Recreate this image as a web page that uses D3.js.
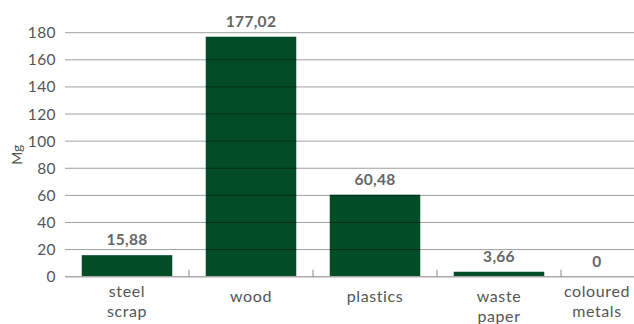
<!DOCTYPE html>
<html>
<head>
<meta charset="utf-8">
<script src="https://cdn.jsdelivr.net/npm/d3@7"></script>
<style>
  body { margin: 0; background: #fff; }
  svg { display: block; font-family: Lato, "Open Sans", sans-serif; }
</style>
</head>
<body>
<div id="chart"></div>
<script>
// chart data
var categories = ['steel scrap', 'wood', 'plastics', 'waste paper', 'coloured metals'];
var categoryLines = [['steel', 'scrap'], ['wood'], ['plastics'], ['waste', 'paper'], ['coloured', 'metals']];
var values = [15.88, 177.02, 60.48, 3.66, 0];
var yTicks = [0, 20, 40, 60, 80, 100, 120, 140, 160, 180];

var width = 634, height = 324;
var plotLeft = 65, plotRight = 685, plotTop = 32.7, plotBottom = 276.7;

var svg = d3.select('#chart').append('svg')
    .attr('width', width)
    .attr('height', height);

var x = d3.scaleBand()
    .domain(categories)
    .range([plotLeft, plotRight])
    .paddingInner(0.27)
    .paddingOuter(0.135);

var y = d3.scaleLinear()
    .domain([0, 180])
    .range([plotBottom, plotTop]);

var fmt = d3.formatLocale({ decimal: ',', thousands: '.', grouping: [3], currency: ['', ''] }).format('.2f');

// bars
svg.selectAll('rect.bar')
    .data(values)
    .enter().append('rect')
    .attr('class', 'bar')
    .attr('x', function(d, i) { return x(categories[i]); })
    .attr('y', function(d) { return y(d); })
    .attr('width', x.bandwidth())
    .attr('height', function(d) { return plotBottom - y(d); })
    .style('fill', '#024d27');

// gridlines, drawn over the bars
svg.selectAll('line.grid')
    .data(yTicks.slice(1))
    .enter().append('line')
    .attr('class', 'grid')
    .attr('x1', plotLeft)
    .attr('x2', width)
    .attr('y1', function(d) { return y(d); })
    .attr('y2', function(d) { return y(d); })
    .style('stroke', '#000')
    .style('stroke-opacity', 0.38)
    .style('stroke-width', 1);

// y axis labels
var yAxis = d3.axisLeft(y).tickValues(yTicks).tickSize(0).tickPadding(9);
var gy = svg.append('g')
    .attr('transform', 'translate(' + plotLeft + ',0)')
    .call(yAxis);
gy.select('.domain').remove();
gy.selectAll('text')
    .style('font-size', '15.5px')
    .style('font-family', 'Lato, sans-serif')
    .style('letter-spacing', '0.4px')
    .style('fill', '#555');

// x baseline and separator ticks
svg.append('line')
    .attr('x1', plotLeft)
    .attr('x2', width)
    .attr('y1', plotBottom)
    .attr('y2', plotBottom)
    .style('stroke', '#aaa')
    .style('stroke-width', 1.5);

var step = x.step();
svg.selectAll('line.sep')
    .data(categories.slice(1))
    .enter().append('line')
    .attr('class', 'sep')
    .attr('x1', function(d) { return x(d) - step * x.paddingInner() / 2; })
    .attr('x2', function(d) { return x(d) - step * x.paddingInner() / 2; })
    .attr('y1', plotBottom)
    .attr('y2', plotBottom - 7)
    .style('stroke', '#888')
    .style('stroke-width', 1);

// keep labels inside the visible area
function labelX(i, half) {
    var cx = x(categories[i]) + x.bandwidth() / 2;
    return Math.min(cx, width - 4 - half);
}

// category labels
var labelTop = [297, 302, 302, 302, 297];
var catHalfWidths = [];
categoryLines.forEach(function(lines, i) {
    var t = svg.append('text')
        .attr('text-anchor', 'middle')
        .style('font-size', '16px')
        .style('letter-spacing', '0.6px')
        .style('fill', '#555');
    lines.forEach(function(line, j) {
        t.append('tspan')
            .attr('x', 0)
            .attr('y', labelTop[i] + j * 20)
            .text(line);
    });
    var w = t.node().getBBox().width;
    catHalfWidths.push(w / 2);
    t.selectAll('tspan').attr('x', labelX(i, w / 2));
});

// value labels
values.forEach(function(d, i) {
    svg.append('text')
        .attr('text-anchor', 'middle')
        .attr('x', labelX(i, catHalfWidths[i]))
        .attr('y', y(d) - 10)
        .style('font-size', '15.5px')
        .style('font-weight', 'bold')
        .style('letter-spacing', '0.3px')
        .style('fill', '#666')
        .text(d === 0 ? '0' : fmt(d));
});

// y axis title
svg.append('text')
    .attr('transform', 'translate(22,' + y(90) + ') rotate(-90)')
    .attr('text-anchor', 'middle')
    .style('font-size', '14px')
    .style('fill', '#555')
    .text('Mg');
</script>
</body>
</html>
